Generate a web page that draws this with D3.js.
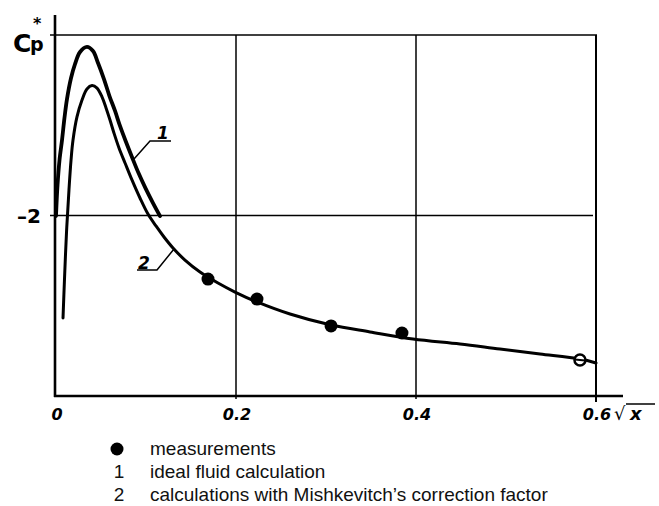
<!DOCTYPE html>
<html>
<head>
<meta charset="utf-8">
<script src="https://cdn.jsdelivr.net/npm/d3@7"></script>
<style>
  html, body { margin: 0; padding: 0; background: #fff; }
  svg { display: block; }
</style>
</head>
<body>
<svg id="chart" width="659" height="506"></svg>
<script>
// ---- data (x = sqrt(x), y = Cp*) ----
const xTicks = [0, 0.2, 0.4, 0.6];
const xTickLabels = ["0", "0.2", "0.4", "0.6"];
const yGrid = [-3, -2];
const yTickLabels = [{ v: -2, t: "-2" }];

// curve 1: ideal fluid calculation
const curve1X = [0, 0.0017, 0.0039, 0.0067, 0.0094, 0.0122, 0.0167, 0.0211, 0.0267, 0.0344, 0.0411, 0.0467, 0.0533, 0.0594, 0.0656, 0.0711, 0.0778, 0.0844, 0.0917, 0.0994, 0.1078, 0.1156];
const curve1Y = [-1.997, -2.169, -2.307, -2.418, -2.540, -2.645, -2.762, -2.839, -2.906, -2.934, -2.911, -2.845, -2.756, -2.662, -2.579, -2.496, -2.407, -2.324, -2.235, -2.152, -2.069, -1.997];

// curve 2: calculation with Mishkevitch's correction factor
const curve2X = [0.0078, 0.0094, 0.0117, 0.0144, 0.0167, 0.0189, 0.0233, 0.0289, 0.0344, 0.04, 0.0456, 0.0511, 0.0556, 0.06, 0.0644, 0.07, 0.0767, 0.0844, 0.0933, 0.1022, 0.1111, 0.12, 0.13, 0.1433, 0.16, 0.18, 0.1989, 0.2233, 0.26, 0.3056, 0.3489, 0.3967, 0.4489, 0.4933, 0.5378, 0.5822, 0.6];
const curve2Y = [-1.432, -1.643, -1.909, -2.141, -2.307, -2.418, -2.546, -2.640, -2.701, -2.720, -2.706, -2.657, -2.596, -2.529, -2.457, -2.374, -2.291, -2.197, -2.097, -2.008, -1.942, -1.881, -1.820, -1.753, -1.687, -1.626, -1.576, -1.521, -1.454, -1.393, -1.355, -1.316, -1.288, -1.260, -1.233, -1.205, -1.183];

// measurements
const measX = [0.1689, 0.2233, 0.3056, 0.3844, 0.5822];
const measY = [-1.648, -1.537, -1.388, -1.349, -1.199];

const legendItems = ["measurements", "ideal fluid calculation", "calculations with Mishkevitch\u2019s correction factor"];
const legendKeys = ["", "1", "2"];

// ---- scales ----
const x = d3.scaleLinear().domain([0, 0.6]).range([56, 596]);
const y = d3.scaleLinear().domain([-1, -3]).range([396, 35]);

const svg = d3.select("#chart");
const hand = "'DejaVu Sans', sans-serif";

// grid lines
svg.append("g").selectAll("line.hg").data(yGrid).join("line")
  .attr("x1", 50).attr("x2", d => d === -3 ? x(0.6) + 1 : x(0.6) - 3)
  .attr("y1", d => y(d)).attr("y2", d => y(d))
  .attr("stroke", "#000").attr("stroke-width", 1.6);

svg.append("g").selectAll("line.vg").data(xTicks.slice(1)).join("line")
  .attr("x1", d => x(d)).attr("x2", d => x(d))
  .attr("y1", y(-3)).attr("y2", d => d === 0.6 ? y(-1) + 6 : y(-1) + 3)
  .attr("stroke", "#000").attr("stroke-width", d => d === 0.6 ? 2 : 1.5);

// axes
svg.append("line").attr("x1", 55).attr("x2", 55).attr("y1", 15).attr("y2", y(-1) + 1)
  .attr("stroke", "#000").attr("stroke-width", 2.6);
svg.append("line").attr("x1", 54).attr("x2", 623).attr("y1", y(-1)).attr("y2", y(-1))
  .attr("stroke", "#000").attr("stroke-width", 2.6);

// tick labels
svg.append("g").selectAll("text").data(xTicks).join("text")
  .attr("x", d => x(d) + 1).attr("y", 420)
  .attr("text-anchor", "middle")
  .attr("font-family", hand).attr("font-weight", "bold").attr("font-style", "italic")
  .attr("font-size", 16)
  .text((d, i) => xTickLabels[i]);

svg.append("g").selectAll("text").data(yTickLabels).join("text")
  .attr("x", 41).attr("y", d => y(d.v) + 7)
  .attr("text-anchor", "end")
  .attr("font-family", hand).attr("font-weight", "bold")
  .attr("font-size", 20)
  .text(d => d.t.replace("-", "\u2013"));

// axis titles
svg.append("text").attr("x", 13).attr("y", 52).attr("font-family", hand).attr("font-weight", "bold")
  .attr("font-size", 25).text("C");
svg.append("text").attr("x", 30).attr("y", 51).attr("font-family", hand).attr("font-weight", "bold")
  .attr("font-size", 19).text("p");
svg.append("text").attr("x", 33).attr("y", 29).attr("font-family", hand).attr("font-weight", "bold")
  .attr("font-size", 16).text("*");

svg.append("text").attr("x", 614).attr("y", 420).attr("font-family", hand).attr("font-size", 18).text("\u221A");
svg.append("text").attr("x", 630).attr("y", 420).attr("font-family", hand).attr("font-style", "italic").attr("font-weight", "bold").attr("font-size", 18).text("x");
svg.append("line").attr("x1", 626).attr("x2", 655).attr("y1", 404).attr("y2", 404).attr("stroke", "#000").attr("stroke-width", 1.5);

// curves
const line = d3.line().x(d => x(d[0])).y(d => y(d[1])).curve(d3.curveCatmullRom.alpha(0.5));
const c1 = curve1X.map((v, i) => [v, curve1Y[i]]);
const c2 = curve2X.map((v, i) => [v, curve2Y[i]]);

svg.append("path").attr("d", line(c1)).attr("fill", "none").attr("stroke", "#000")
  .attr("stroke-width", 3.8).attr("stroke-linecap", "round").attr("stroke-linejoin", "round");
svg.append("path").attr("d", line(c2)).attr("fill", "none").attr("stroke", "#000")
  .attr("stroke-width", 3).attr("stroke-linecap", "round").attr("stroke-linejoin", "round");

// measurement points
svg.append("g").selectAll("circle").data(measX).join("circle")
  .attr("cx", d => x(d)).attr("cy", (d, i) => y(measY[i]))
  .attr("r", (d, i) => i === measX.length - 1 ? 5.5 : 6.5)
  .attr("fill", (d, i) => i === measX.length - 1 ? "#fff" : "#000")
  .attr("stroke", "#000").attr("stroke-width", (d, i) => i === measX.length - 1 ? 2.5 : 0);
svg.append("line")
  .attr("x1", x(measX[4]) - 5).attr("x2", x(measX[4]) + 5)
  .attr("y1", y(measY[4]) - 0.5).attr("y2", y(measY[4]) + 0.5)
  .attr("stroke", "#000").attr("stroke-width", 2);

// curve labels with leader lines
const labels = [
  { t: "1", tx: 157, ty: 139, path: [[134, 159], [150, 141], [171, 141]] },
  { t: "2", tx: 138, ty: 269, path: [[137, 270], [157, 270], [174, 249]] }
];
svg.append("g").selectAll("path").data(labels).join("path")
  .attr("d", d => d3.line()(d.path)).attr("fill", "none").attr("stroke", "#000").attr("stroke-width", 1.5);
svg.append("g").selectAll("text").data(labels).join("text")
  .attr("x", d => d.tx).attr("y", d => d.ty)
  .attr("font-family", hand).attr("font-weight", "bold").attr("font-style", "italic")
  .attr("font-size", 17).text(d => d.t);

// legend
const lg = svg.append("g").attr("font-family", "'Liberation Sans', Arial, sans-serif").attr("font-size", 19).attr("fill", "#111");
const rows = [455, 478, 501];
lg.append("circle").attr("cx", 117).attr("cy", rows[0] - 6).attr("r", 6.5).attr("fill", "#000");
lg.selectAll("text.k").data(legendKeys).join("text").attr("class", "k")
  .attr("x", 119).attr("y", (d, i) => rows[i]).attr("text-anchor", "middle").text(d => d);
lg.selectAll("text.l").data(legendItems).join("text").attr("class", "l")
  .attr("x", 150).attr("y", (d, i) => rows[i]).text(d => d);
</script>
</body>
</html>
